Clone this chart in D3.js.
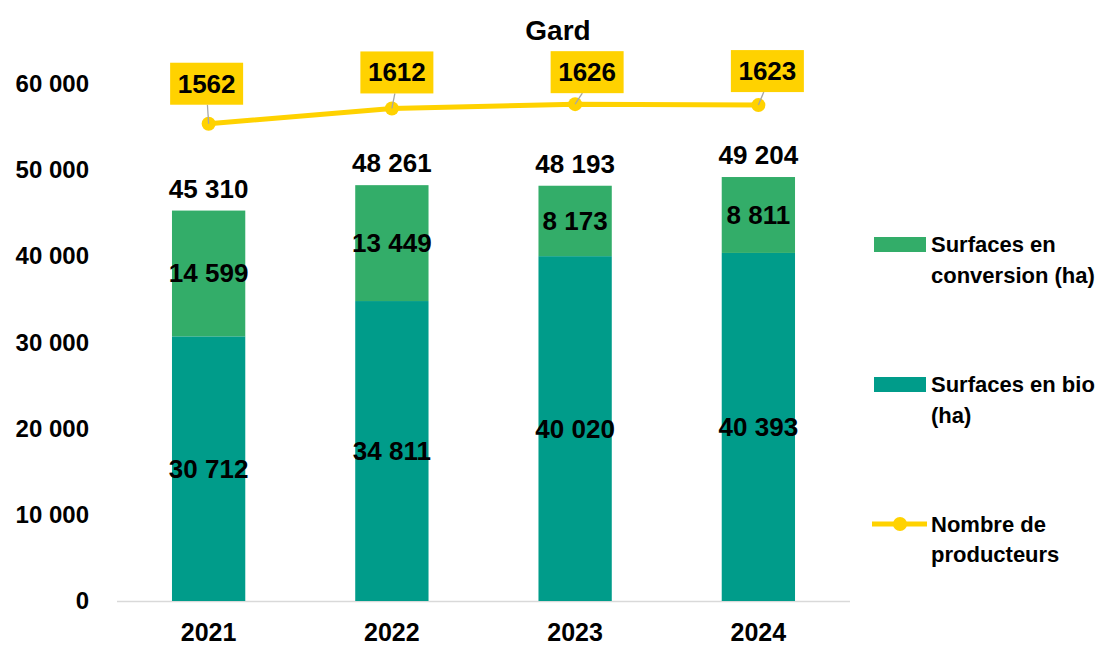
<!DOCTYPE html>
<html>
<head>
<meta charset="utf-8">
<script src="https://cdn.jsdelivr.net/npm/d3@7"></script>
<style>
  body { margin: 0; background: #fff; }
  svg text { font-family: "Liberation Sans", Arial, sans-serif; font-weight: bold; fill: #000; }
</style>
</head>
<body>
<svg id="chart" width="1104" height="646"></svg>
<script>
// data
const years = ["2021", "2022", "2023", "2024"];
const bio = [30712, 34811, 40020, 40393];
const conversion = [14599, 13449, 8173, 8811];
const totals = [45310, 48261, 48193, 49204];
const producteurs = [1562, 1612, 1626, 1623];
const yTicks = [0, 10000, 20000, 30000, 40000, 50000, 60000];

const colors = { bio: "#009c8a", conv: "#33ad69", line: "#ffd200" };
const fmt = v => d3.format(",")(v).replace(/,/g, " ");

const svg = d3.select("#chart");
const margin = { top: 84, left: 117, right: 254, bottom: 45 };
const W = 1104, H = 646;

const x = d3.scaleBand().domain(years)
  .range([margin.left, W - margin.right]).paddingInner(0.6).paddingOuter(0.3);
const y = d3.scaleLinear().domain([0, 60000]).range([H - margin.bottom, margin.top]);
const y2 = d3.scaleLinear().domain([0, 1800]).range([H - margin.bottom, 51]);

const rows = years.map((yr, i) => ({ year: yr, bio: bio[i], conv: conversion[i], total: totals[i], prod: producteurs[i] }));

// title
svg.append("text").attr("x", 558).attr("y", 40).attr("text-anchor", "middle")
  .style("font-size", "28px").text("Gard");

// y axis labels
svg.append("g").selectAll("text").data(yTicks).join("text")
  .attr("x", 89).attr("y", d => y(d) + 8)
  .attr("text-anchor", "end").style("font-size", "24px")
  .text(d => fmt(d));

// baseline
svg.append("line").attr("x1", margin.left).attr("x2", W - margin.right)
  .attr("y1", y(0) + 0.5).attr("y2", y(0) + 0.5)
  .attr("stroke", "#d9d9d9").attr("stroke-width", 1.5);

// stacked bars
const bars = svg.append("g");
bars.selectAll(".bio").data(rows).join("rect").attr("class", "bio")
  .attr("x", d => x(d.year)).attr("width", x.bandwidth())
  .attr("y", d => y(d.bio)).attr("height", d => y(0) - y(d.bio))
  .attr("fill", colors.bio);
bars.selectAll(".conv").data(rows).join("rect").attr("class", "conv")
  .attr("x", d => x(d.year)).attr("width", x.bandwidth())
  .attr("y", d => y(d.bio + d.conv)).attr("height", d => y(d.bio) - y(d.bio + d.conv))
  .attr("fill", colors.conv);

const cx = d => x(d.year) + x.bandwidth() / 2;
const lab = svg.append("g").style("font-size", "26px").attr("text-anchor", "middle");
lab.selectAll(".lb").data(rows).join("text")
  .attr("x", cx).attr("y", d => (y(0) + y(d.bio)) / 2 + 9).text(d => fmt(d.bio));
lab.selectAll(".lc").data(rows).join("text")
  .attr("x", cx).attr("y", d => (y(d.bio) + y(d.bio + d.conv)) / 2 + 9).text(d => fmt(d.conv));
lab.selectAll(".lt").data(rows).join("text")
  .attr("x", cx).attr("y", d => y(d.bio + d.conv) - 13).text(d => fmt(d.total));

// producers line
const line = d3.line().x(cx).y(d => y2(d.prod));
svg.append("path").datum(rows).attr("d", line)
  .attr("fill", "none").attr("stroke", colors.line).attr("stroke-width", 5);

// label boxes (nudged like the original callouts)
const nudge = [[-2, -40], [5, -36], [12, -32], [9, -34]];
const bw = 73, bh = 42;
rows.forEach((d, i) => {
  const px = cx(d), py = y2(d.prod);
  const bx = px + nudge[i][0], by = py + nudge[i][1];
  svg.append("circle").attr("cx", px).attr("cy", py).attr("r", 7).attr("fill", colors.line);
  svg.append("line").attr("x1", px).attr("y1", py)
    .attr("x2", px + (bx - px) * 0.6).attr("y2", by + bh / 2)
    .attr("stroke", "#a6a6a6").attr("stroke-width", 1.3);
  svg.append("rect").attr("x", bx - bw / 2).attr("y", by - bh / 2)
    .attr("width", bw).attr("height", bh).attr("fill", colors.line);
  svg.append("text").attr("x", bx).attr("y", by + 9).attr("text-anchor", "middle")
    .style("font-size", "26px").text(d.prod);
});

// x axis labels
svg.append("g").selectAll("text").data(years).join("text")
  .attr("x", d => x(d) + x.bandwidth() / 2).attr("y", 641)
  .attr("text-anchor", "middle").style("font-size", "25px").text(d => d);

// legend
const lg = svg.append("g").style("font-size", "22px");
lg.append("rect").attr("x", 874).attr("y", 237).attr("width", 52).attr("height", 15).attr("fill", colors.conv);
lg.append("text").attr("x", 931).attr("y", 252).text("Surfaces en");
lg.append("text").attr("x", 931).attr("y", 283).text("conversion (ha)");
lg.append("rect").attr("x", 874).attr("y", 377).attr("width", 52).attr("height", 15).attr("fill", colors.bio);
lg.append("text").attr("x", 931).attr("y", 392).text("Surfaces en bio");
lg.append("text").attr("x", 931).attr("y", 423).text("(ha)");
lg.append("line").attr("x1", 872).attr("x2", 927).attr("y1", 524).attr("y2", 524)
  .attr("stroke", colors.line).attr("stroke-width", 5);
lg.append("circle").attr("cx", 900).attr("cy", 524).attr("r", 7).attr("fill", colors.line);
lg.append("text").attr("x", 931).attr("y", 532).text("Nombre de");
lg.append("text").attr("x", 931).attr("y", 562).text("producteurs");
</script>
</body>
</html>
